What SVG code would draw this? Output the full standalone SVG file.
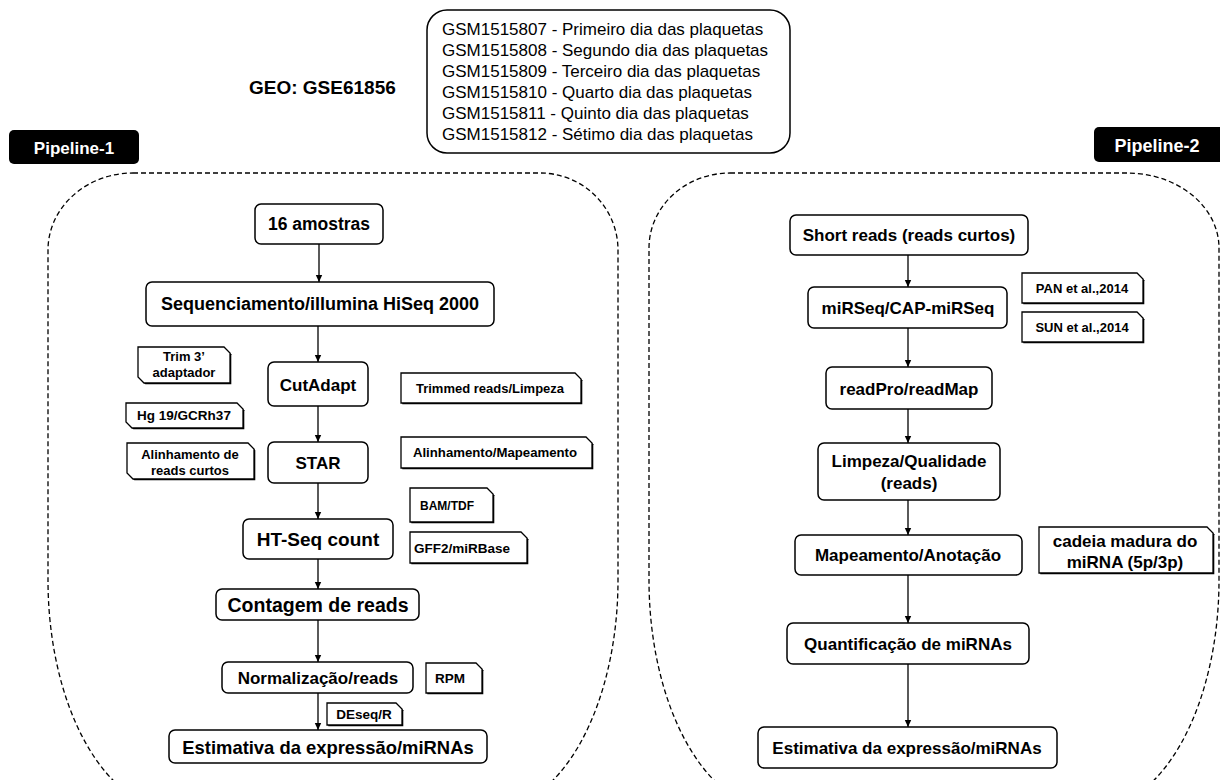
<svg xmlns="http://www.w3.org/2000/svg" width="1220" height="780" viewBox="0 0 1220 780">
<defs>
<style>
text{font-family:"Liberation Sans",Arial,sans-serif;fill:#000}
.b{font-weight:bold}
.c{text-anchor:middle}
.box{fill:#fff;stroke:#000;stroke-width:1.5}
.note{fill:#fff;stroke:#000;stroke-width:1.3}
.sh{fill:#000}
.dash{fill:none;stroke:#000;stroke-width:1.3;stroke-dasharray:5 3}
.lab{fill:#000}
.wt{fill:#fff;font-weight:bold;text-anchor:middle}
.edge{stroke:#000;stroke-width:1.3;fill:none;marker-end:url(#ah)}
</style>
<marker id="ah" markerWidth="8" markerHeight="8" refX="7" refY="4" orient="auto" markerUnits="userSpaceOnUse">
<path d="M0,0.8 L7,4 L0,7.2 Z" fill="#000"/>
</marker>
</defs>
<rect width="1220" height="780" fill="#fff"/>

<g id="containers">
<path class="dash" d="M133 173 H540 A78 77 0 0 1 618 250 V580 A128 230 0 0 1 490 810 H176 A128 230 0 0 1 48 580 V250 A85 77 0 0 1 133 173 Z"/>
<path class="dash" d="M730 173 H1127 A92 75 0 0 1 1219 248 V580 A128 230 0 0 1 1091 810 H777 A128 230 0 0 1 649 580 V248 A81 75 0 0 1 730 173 Z"/>
</g>

<g id="geo">
<text class="b" x="249" y="94" font-size="19">GEO: GSE61856</text>
</g>

<g id="gsm">
<rect class="box" x="427" y="10" width="363" height="143" rx="20"/>
<text x="442" y="35" font-size="17">GSM1515807 - Primeiro dia das plaquetas</text>
<text x="442" y="56" font-size="17">GSM1515808 - Segundo dia das plaquetas</text>
<text x="442" y="77" font-size="17">GSM1515809 - Terceiro dia das plaquetas</text>
<text x="442" y="98" font-size="17">GSM1515810 - Quarto dia das plaquetas</text>
<text x="442" y="119" font-size="17">GSM1515811 - Quinto dia das plaquetas</text>
<text x="442" y="140" font-size="17">GSM1515812 - Sétimo dia das plaquetas</text>
</g>

<g id="pipeline1">
<rect class="lab" x="9" y="130" width="130" height="34" rx="5"/>
<text class="wt" x="74" y="154" font-size="17">Pipeline-1</text>
</g>
<g id="pipeline2">
<rect class="lab" x="1094" y="127" width="132" height="35" rx="5"/>
<text class="wt" x="1157" y="152" font-size="18">Pipeline-2</text>
</g>

<g id="connectors">
<line class="edge" x1="319" y1="244" x2="319" y2="282"/>
<line class="edge" x1="318" y1="326" x2="318" y2="362"/>
<line class="edge" x1="318" y1="406" x2="318" y2="442"/>
<line class="edge" x1="318" y1="483" x2="318" y2="519"/>
<line class="edge" x1="318" y1="559" x2="318" y2="589"/>
<line class="edge" x1="318" y1="620" x2="318" y2="662"/>
<line class="edge" x1="318" y1="693" x2="318" y2="730"/>
<line class="edge" x1="908" y1="255" x2="908" y2="287"/>
<line class="edge" x1="908" y1="328" x2="908" y2="367"/>
<line class="edge" x1="908" y1="409" x2="908" y2="443"/>
<line class="edge" x1="908" y1="500" x2="908" y2="535"/>
<line class="edge" x1="908" y1="575" x2="908" y2="623"/>
<line class="edge" x1="908" y1="664" x2="908" y2="727"/>
</g>

<!-- Left pipeline nodes -->
<g id="n-16amostras">
<rect class="box" x="255" y="204" width="128" height="40" rx="6"/>
<text class="b c" x="319" y="230" font-size="17.5">16 amostras</text>
</g>
<g id="n-sequenciamento">
<rect class="box" x="146" y="282" width="348" height="44" rx="6"/>
<text class="b c" x="320" y="310" font-size="18">Sequenciamento/illumina HiSeq 2000</text>
</g>
<g id="n-cutadapt">
<rect class="box" x="268" y="362" width="100" height="44" rx="6"/>
<text class="b c" x="318" y="391" font-size="17">CutAdapt</text>
</g>
<g id="n-star">
<rect class="box" x="268" y="442" width="100" height="41" rx="6"/>
<text class="b c" x="318" y="469" font-size="17">STAR</text>
</g>
<g id="n-htseq">
<rect class="box" x="243" y="519" width="150" height="40" rx="6"/>
<text class="b c" x="318" y="546" font-size="19">HT-Seq count</text>
</g>
<g id="n-contagem">
<rect class="box" x="216" y="589" width="203" height="31" rx="6"/>
<text class="b c" x="318" y="612" font-size="19.5">Contagem de reads</text>
</g>
<g id="n-normalizacao">
<rect class="box" x="222" y="662" width="191" height="31" rx="6"/>
<text class="b c" x="318" y="684" font-size="17">Normalização/reads</text>
</g>
<g id="n-estimativa1">
<rect class="box" x="169" y="730" width="318" height="33" rx="6"/>
<text class="b c" x="328" y="754" font-size="18.4">Estimativa da expressão/miRNAs</text>
</g>

<!-- Left notes -->
<g id="note-trim">
<path class="sh" transform="translate(1.3,1.3)" d="M138 347 H224 L230 353 V383 H144 L138 377 Z"/>
<path class="note" d="M138 347 H224 L230 353 V383 H144 L138 377 Z"/>
<text class="b c" x="184" y="361" font-size="13">Trim 3’</text>
<text class="b c" x="184" y="377" font-size="13">adaptador</text>
</g>
<g id="note-hg">
<path class="sh" transform="translate(1.3,1.3)" d="M126 403 H237 L243 409 V428 H132 L126 422 Z"/>
<path class="note" d="M126 403 H237 L243 409 V428 H132 L126 422 Z"/>
<text class="b c" x="184" y="420" font-size="13.5">Hg 19/GCRh37</text>
</g>
<g id="note-alin">
<path class="sh" transform="translate(1.3,1.3)" d="M127 443 H248 L254 449 V479 H133 L127 473 Z"/>
<path class="note" d="M127 443 H248 L254 449 V479 H133 L127 473 Z"/>
<text class="b c" x="190" y="459" font-size="13">Alinhamento de</text>
<text class="b c" x="190" y="475" font-size="13">reads curtos</text>
</g>
<g id="note-trimmed">
<path class="sh" transform="translate(1.3,1.3)" d="M401 373 H575 L581 379 V403 H401 Z"/>
<path class="note" d="M401 373 H575 L581 379 V403 H401 Z"/>
<text class="b c" x="490" y="393" font-size="13">Trimmed reads/Limpeza</text>
</g>
<g id="note-alinmap">
<path class="sh" transform="translate(1.3,1.3)" d="M401 437 H586 L592 443 V468 H401 Z"/>
<path class="note" d="M401 437 H586 L592 443 V468 H401 Z"/>
<text class="b c" x="495" y="457" font-size="13.2">Alinhamento/Mapeamento</text>
</g>
<g id="note-bam">
<path class="sh" transform="translate(1.3,1.3)" d="M410 488 H487 L493 494 V522 H410 Z"/>
<path class="note" d="M410 488 H487 L493 494 V522 H410 Z"/>
<text class="b c" x="447" y="510" font-size="12">BAM/TDF</text>
</g>
<g id="note-gff">
<path class="sh" transform="translate(1.3,1.3)" d="M410 532 H521 L527 538 V563 H410 Z"/>
<path class="note" d="M410 532 H521 L527 538 V563 H410 Z"/>
<text class="b" x="414" y="553" font-size="13.5">GFF2/miRBase</text>
</g>
<g id="note-rpm">
<path class="sh" transform="translate(1.3,1.3)" d="M426 663 H476 L482 669 V693 H426 Z"/>
<path class="note" d="M426 663 H476 L482 669 V693 H426 Z"/>
<text class="b c" x="450" y="683" font-size="13.5">RPM</text>
</g>
<g id="note-deseq">
<path class="sh" transform="translate(1.3,1.3)" d="M327 703 H396 L402 709 V725 H327 Z"/>
<path class="note" d="M327 703 H396 L402 709 V725 H327 Z"/>
<text class="b c" x="364" y="719" font-size="13.5">DEseq/R</text>
</g>

<!-- Right pipeline nodes -->
<g id="n-short">
<rect class="box" x="790" y="215" width="238" height="40" rx="6"/>
<text class="b c" x="909" y="241" font-size="17">Short reads (reads curtos)</text>
</g>
<g id="n-mirseq">
<rect class="box" x="808" y="287" width="199" height="41" rx="6"/>
<text class="b c" x="908" y="314" font-size="17">miRSeq/CAP-miRSeq</text>
</g>
<g id="n-readpro">
<rect class="box" x="826" y="367" width="166" height="42" rx="6"/>
<text class="b c" x="909" y="395" font-size="17">readPro/readMap</text>
</g>
<g id="n-limpeza">
<rect class="box" x="818" y="443" width="182" height="57" rx="6"/>
<text class="b c" x="909" y="467" font-size="17">Limpeza/Qualidade</text>
<text class="b c" x="909" y="489" font-size="17">(reads)</text>
</g>
<g id="n-mapeamento">
<rect class="box" x="795" y="535" width="227" height="40" rx="6"/>
<text class="b c" x="908" y="561" font-size="17">Mapeamento/Anotação</text>
</g>
<g id="n-quant">
<rect class="box" x="787" y="623" width="242" height="41" rx="6"/>
<text class="b c" x="908" y="650" font-size="17">Quantificação de miRNAs</text>
</g>
<g id="n-estimativa2">
<rect class="box" x="758" y="727" width="299" height="41" rx="6"/>
<text class="b c" x="907" y="754" font-size="17">Estimativa da expressão/miRNAs</text>
</g>

<!-- Right notes -->
<g id="note-pan">
<path class="sh" transform="translate(1.3,1.3)" d="M1022 273 H1137 L1143 279 V303 H1022 Z"/>
<path class="note" d="M1022 273 H1137 L1143 279 V303 H1022 Z"/>
<text class="b c" x="1082" y="293" font-size="13">PAN et al.,2014</text>
</g>
<g id="note-sun">
<path class="sh" transform="translate(1.3,1.3)" d="M1022 312 H1137 L1143 318 V342 H1022 Z"/>
<path class="note" d="M1022 312 H1137 L1143 318 V342 H1022 Z"/>
<text class="b c" x="1082" y="332" font-size="13">SUN et al.,2014</text>
</g>
<g id="note-cadeia">
<path class="sh" transform="translate(1.3,1.3)" d="M1039 527 H1207 L1213 533 V573 H1039 Z"/>
<path class="note" d="M1039 527 H1207 L1213 533 V573 H1039 Z"/>
<text class="b c" x="1125" y="547" font-size="17">cadeia madura do</text>
<text class="b c" x="1125" y="568" font-size="17">miRNA (5p/3p)</text>
</g>
</svg>
